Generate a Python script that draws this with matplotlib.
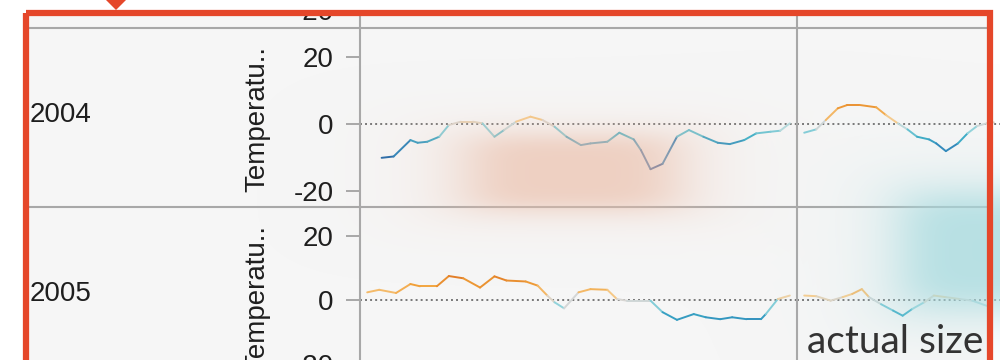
import numpy as np
import matplotlib.pyplot as plt
from matplotlib.collections import LineCollection
from matplotlib.colors import LinearSegmentedColormap, Normalize
from matplotlib.patches import Rectangle, Polygon
from matplotlib.lines import Line2D

plt.rcParams['font.family'] = ['Liberation Sans', 'DejaVu Sans']

# daily temperature deviation, first half / second half of each year
years = ['2004', '2005']

days_h1_2004 = [9, 14, 21, 24, 28, 33, 37, 42, 47, 51, 56, 60, 65, 71, 76, 81, 86,
                92, 96, 103, 108, 114, 117, 121, 126, 132, 137, 143, 149, 154, 160,
                165, 171, 175, 179]
temp_h1_2004 = [-10.1, -9.7, -4.8, -5.6, -5.3, -3.8, -0.3, 0.7, 0.7, 0.2, -3.8, -1.8,
                0.7, 2.2, 1.2, -0.8, -3.8, -6.3, -5.8, -5.3, -2.6, -4.6, -7.8, -13.5,
                -11.9, -3.8, -1.8, -3.8, -5.6, -6.0, -4.8, -2.8, -2.3, -2.0, 0.2]

days_h2_2004 = [3, 8, 12, 17, 21, 26, 33, 37, 42, 46, 50, 55, 58, 62, 67, 71, 75, 79, 82]
temp_h2_2004 = [-2.6, -1.6, 1.2, 4.7, 5.7, 5.7, 5.0, 2.7, 0.2, -1.6, -3.8, -4.6, -5.8,
                -8.1, -5.8, -2.8, -0.6, 0.2, 0.5]

days_h1_2005 = [3, 8, 15, 21, 25, 32, 37, 43, 50, 56, 61, 69, 74, 78, 81, 85, 91, 96,
                103, 107, 111, 121, 126, 132, 139, 144, 150, 155, 161, 167, 169, 174, 179]
temp_h1_2005 = [2.4, 3.2, 2.2, 5.0, 4.3, 4.3, 7.5, 6.8, 3.9, 7.4, 6.1, 5.8, 4.5, 1.4,
                -0.7, -2.6, 2.4, 3.4, 3.2, 0.3, -0.2, -0.2, -3.8, -6.2, -4.4, -5.4,
                -6.0, -5.4, -6.0, -6.0, -4.4, 0.3, 1.4]

days_h2_2005 = [3, 8, 14, 19, 23, 27, 30, 35, 40, 44, 48, 53, 57, 62, 68, 73, 79]
temp_h2_2005 = [1.4, 1.2, -0.2, 0.9, 1.9, 3.4, 0.9, -1.3, -3.3, -4.9, -2.8, -0.7, 1.4,
                0.9, 0.3, -0.2, -1.8]

rows = [
    (years[0], (days_h1_2004, temp_h1_2004), (days_h2_2004, temp_h2_2004)),
    (years[1], (days_h1_2005, temp_h1_2005), (days_h2_2005, temp_h2_2005)),
]

W, H = 1000, 360
fig = plt.figure(figsize=(W / 100, H / 100), dpi=100)
fig.patch.set_facecolor('white')


def box(x0, y0, x1, y1):
    return [x0 / W, 1 - y1 / H, (x1 - x0) / W, (y1 - y0) / H]


def fx(x):
    return x / W


def fy(y):
    return 1 - y / H


grid_c = '#a8a8a8'
pane_c = '#f6f6f6'
text_c = '#1e1e1e'

# light gray canvas inside the frame
fig.patches.append(Rectangle((fx(26), fy(400)), fx(990) - fx(26), fy(13) - fy(400),
                             transform=fig.transFigure, facecolor=pane_c,
                             edgecolor='none', zorder=-10))

cmap = LinearSegmentedColormap.from_list('orange_blue', [
    (0.0, '#1d3f86'), (0.25, '#2a7fb8'), (0.38, '#3fb3c9'), (0.46, '#a8dbe0'),
    (0.5, '#d6d6d6'), (0.54, '#f6cf94'), (0.65, '#f2a23a'), (0.8, '#d9661a'),
    (1.0, '#b0400a')])
norm = Normalize(-15, 15)


def draw_series(ax, days, temps):
    x = np.asarray(days, float)
    y = np.asarray(temps, float)
    pts = np.column_stack([x, y]).reshape(-1, 1, 2)
    segs = np.concatenate([pts[:-1], pts[1:]], axis=1)
    lc = LineCollection(segs, colors=cmap(norm((y[:-1] + y[1:]) / 2)),
                        linewidths=1.4, capstyle='round', joinstyle='round', zorder=3)
    ax.add_collection(lc)
    ax.axhline(0, color='#777777', lw=1.4, ls=(0, (1, 1.6)), zorder=2)


def style_pane(ax, ylim, ticks):
    ax.set_facecolor('none')
    ax.set_xlim(0, 182)
    ax.set_ylim(*ylim)
    for s in ax.spines.values():
        s.set_visible(False)
    ax.set_xticks([])
    if ticks:
        ax.set_yticks([-20, 0, 20])
        ax.set_yticklabels(['-20', '0', '20'])
        ax.tick_params(axis='y', length=10, width=1.2, color='#9a9a9a', pad=9,
                       labelsize=20, labelcolor=text_c)
    else:
        ax.set_yticks([])


# row panes: (top, bottom, y-limits)
panes = [(28, 207, (-24.8, 28.7)), (207, 386, (-26.9, 29.1))]

# partial row above 2004
ax_top = fig.add_axes(box(360, -151, 797, 28))
style_pane(ax_top, (-25.4, 28.1), True)
ax_top.set_yticks([-20])
ax_top.set_yticklabels(['-20'])

for (label, left, right), (top, bot, ylim) in zip(rows, panes):
    axl = fig.add_axes(box(360, top, 797, bot))
    style_pane(axl, ylim, True)
    draw_series(axl, *left)
    axr = fig.add_axes(box(797, top, 1234, bot))
    style_pane(axr, ylim, False)
    draw_series(axr, *right)
    fig.text(fx(30), fy(top + 87), label, ha='left', va='center', fontsize=20,
             color=text_c)
    fig.text(fx(257), fy(top + 91), 'Temperatu..', rotation=90, ha='center',
             va='center', fontsize=20, color=text_c)

# table grid lines
for y in (28, 207):
    fig.lines.append(Line2D([fx(26), fx(990)], [fy(y), fy(y)], transform=fig.transFigure,
                            color=grid_c, lw=1.5, zorder=4))
for x in (360, 797):
    fig.lines.append(Line2D([fx(x), fx(x)], [fy(13), fy(400)], transform=fig.transFigure,
                            color=grid_c, lw=1.5, zorder=4))

# soft glows laid over the panes
ov = fig.add_axes([0, 0, 1, 1], zorder=5)
ov.set_axis_off()
gx, gy = np.meshgrid(np.arange(W), np.arange(H))
img = np.zeros((H, W, 4))


def glow(cx, cy, sx, sy, rgb, alpha):
    r = (((gx - cx) / sx) ** 4 + ((gy - cy) / sy) ** 4) ** 0.25
    a = alpha / (1 + r ** 5)
    src = np.array(rgb) / 255.0
    out_a = a + img[..., 3] * (1 - a)
    safe = np.where(out_a > 0, out_a, 1)
    for k in range(3):
        img[..., k] = (src[k] * a + img[..., k] * img[..., 3] * (1 - a)) / safe
    img[..., 3] = out_a


glow(572, 172, 112, 40, (236, 192, 172), 0.7)
glow(990, 250, 95, 62, (168, 220, 224), 0.8)
ov.imshow(img, extent=(0, W, H, 0), aspect='auto', interpolation='bilinear')
ov.set_xlim(0, W)
ov.set_ylim(H, 0)

# white margin above the frame, then the frame and its pointer
ov.add_patch(Rectangle((0, 0), W, 11, facecolor='white', edgecolor='none', zorder=5.5))
ov.add_patch(Rectangle((26, 13), 964, 400, facecolor='none', edgecolor='#e5472a',
                       lw=4.5, zorder=6))
ov.add_patch(Polygon([(106, 0), (126, 0), (116, 10)], closed=True,
                     facecolor='#e5472a', edgecolor='none', zorder=6))
ov.text(895, 353, 'actual size', ha='center', va='baseline', fontsize=28,
        family=['Lato', 'DejaVu Sans'], color='#333333', zorder=7)

fig.savefig('out.png', dpi=100, facecolor=fig.get_facecolor())
